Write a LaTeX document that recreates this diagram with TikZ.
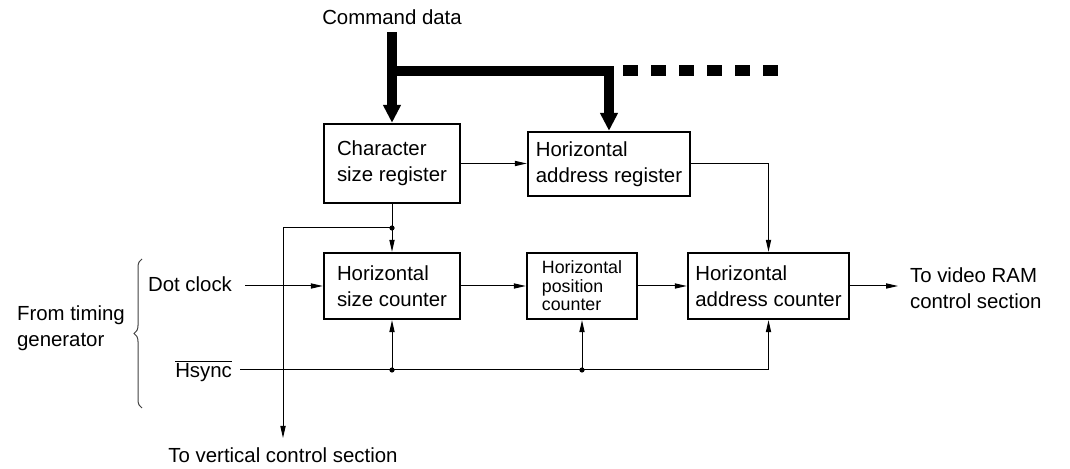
\documentclass[tikz,border=0pt]{standalone}
\usepackage{fontspec}
\setmainfont{Liberation Sans}
\usetikzlibrary{arrows.meta,decorations.pathreplacing}
\begin{document}
\begin{tikzpicture}[x=0.5pt, y=-0.5pt,
		font=\fontsize{10.2}{12.8}\selectfont,
		blk/.style={draw, line width=1.2pt, align=left, inner sep=0pt},
		sig/.style={line width=0.5pt, -{Triangle[length=6pt,width=2.6pt]}},
		bus/.style={line width=5pt, -{Triangle[length=9pt,width=8.5pt]}},
		jdot/.style={circle, fill, inner sep=0pt, minimum size=2.6pt}]

				\useasboundingbox (0,0) rectangle (1070,469);

				\node [blk, minimum width=68pt, minimum height=39.5pt] (csr) at (392,163.5) {Character\\size register};
				\node [blk, minimum width=81pt, minimum height=32pt] (har) at (609,164) {Horizontal\\address register};
				\node [blk, minimum width=68pt, minimum height=33pt] (hsc) at (392,286) {Horizontal\\size counter};
				\node [blk, minimum width=55pt, minimum height=33pt, font=\fontsize{8.9}{9.3}\selectfont] (hpc) at (582,286) {Horizontal\\position\\counter};
				\node [blk, minimum width=80.5pt, minimum height=33pt] (hac) at (768.5,286) {Horizontal\\address counter};

				\node [anchor=base] (cmd) at (392,25) {Command data};
				\node [anchor=base east] (dclk) at (239,292) {Dot clock};
				\node [anchor=base east] (hsync) at (239,378) {\ensuremath{\overline{\mbox{Hsync}}}};
				\node [anchor=west, align=left] (tg) at (10,328) {From timing\\generator};
				\node [anchor=west, align=left] (ram) at (903,288) {To video RAM\\control section};
				\node [anchor=base] (vcs) at (283,463) {To vertical control section};

				\coordinate (dc) at (245,286);
				\coordinate (hs) at (240,370);
				\coordinate (tap) at (392,228);
				\coordinate (vout) at (283,438);
				\coordinate (rout) at (898,286);

				\draw [bus] (cmd.south) -- (csr.north);
				\draw [bus] (392,71) -| (har.north);
				\draw [line width=5.5pt, dash pattern=on 7.5pt off 6.5pt] (623,71) -- (778,71);

				\draw [sig] (csr.east) -- (csr.east -| har.west);
				\draw [sig] (har.east) -| (hac.north);
				\draw [line width=0.5pt] (csr.south) -- (tap);
				\draw [sig] (tap) -- (hsc.north);
				\draw [sig] (tap) -| (vout);

				\draw [sig] (dc) -- (hsc.west);
				\draw [sig] (hsc.east) -- (hpc.west);
				\draw [sig] (hpc.east) -- (hac.west);
				\draw [sig] (hac.east) -- (rout);

				\draw [sig] (hs) -| (hac.south);
				\draw [sig] (hs -| hsc.south) -- (hsc.south);
				\draw [sig] (hs -| hpc.south) -- (hpc.south);
				\node [jdot] at (tap) {};
				\node [jdot] at (hs -| hsc.south) {};
				\node [jdot] at (hs -| hpc.south) {};

				\draw [black!75, line width=0.5pt, decorate, decoration={brace, amplitude=4pt}] (142,408) -- (142,259);
			\end{tikzpicture}
\end{document}
